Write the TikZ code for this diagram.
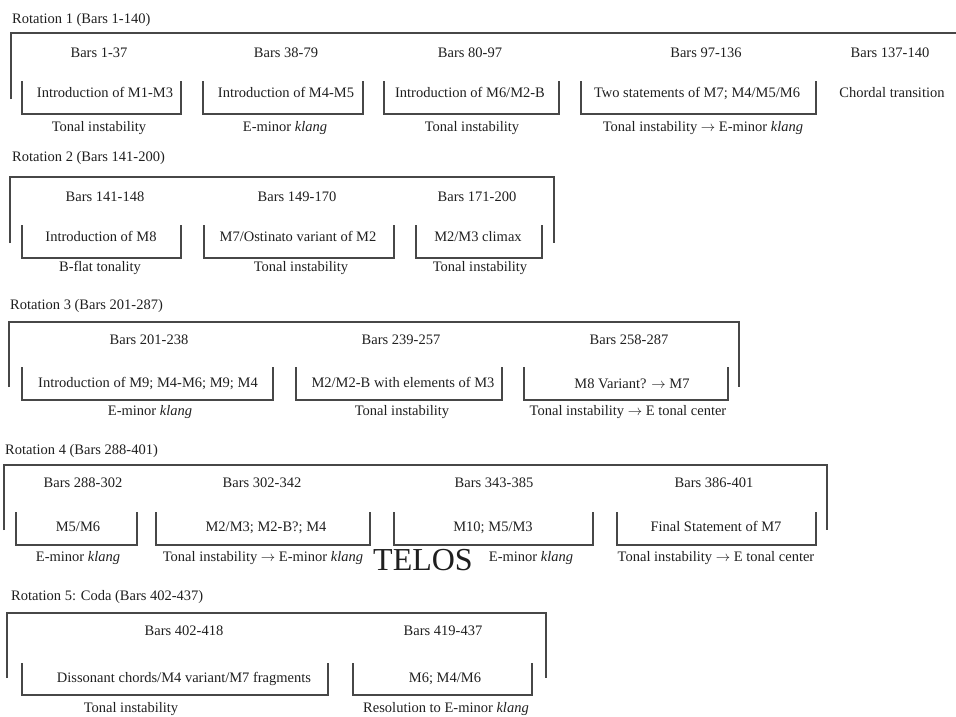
\documentclass[tikz,border=0pt]{standalone}
\usepackage{fontspec}
\setmainfont{Liberation Serif}

\tikzset{
  lbl/.style={inner sep=0pt, text height=9.6pt, text depth=0pt, text=black!88,
              font=\fontsize{14.5}{17}\selectfont},
  ttl/.style={lbl, anchor=west},
  brk/.style={line width=1.3pt, draw=black!72},
  telos/.style={inner sep=0pt, text height=21pt, text depth=0pt, text=black!88,
                font=\fontsize{32}{36}\selectfont}
}
% open-top bracket: left x, top y, bottom y, right x
\newcommand{\barbox}[4]{\draw[brk] (#1,#2) -- (#1,#3) -- (#4,#3) -- (#4,#2);}
\newcommand{\toarr}{$\rightarrow$}

\begin{document}
\begin{tikzpicture}[x=1pt, y=-1pt]
    \useasboundingbox (0,0) rectangle (956,716);

    % Rotation 1
    \node[ttl] (r1) at (12,19) {Rotation 1 (Bars 1-140)};
    \draw[brk] (11,99) -- (11,33) -- (956,33);
    \node[lbl] (r1h1) at (99,53) {Bars 1-37};
    \node[lbl] (r1h2) at (286,53) {Bars 38-79};
    \node[lbl] (r1h3) at (470,53) {Bars 80-97};
    \node[lbl] (r1h4) at (706,53) {Bars 97-136};
    \node[lbl] (r1h5) at (890,53) {Bars 137-140};
    \barbox{22}{81}{114}{181}
    \barbox{203}{81}{114}{363}
    \barbox{384}{81}{114}{559}
    \barbox{581}{81}{114}{816}
    \node[lbl] (r1c1) at (105,93) {Introduction of M1-M3};
    \node[lbl] (r1c2) at (286,93) {Introduction of M4-M5};
    \node[lbl] (r1c3) at (470,93) {Introduction of M6/M2-B};
    \node[lbl] (r1c4) at (697,93) {Two statements of M7; M4/M5/M6};
    \node[lbl] (r1c5) at (892,93) {Chordal transition};
    \node[lbl] (r1k1) at (99,127) {Tonal instability};
    \node[lbl] (r1k2) at (285,127) {E-minor \textit{klang}};
    \node[lbl] (r1k3) at (472,127) {Tonal instability};
    \node[lbl] (r1k4) at (703,127) {Tonal instability \toarr{} E-minor \textit{klang}};

    % Rotation 2
    \node[ttl] (r2) at (12,157) {Rotation 2 (Bars 141-200)};
    \draw[brk] (10,243) -- (10,177) -- (554,177) -- (554,243);
    \node[lbl] (r2h1) at (105,197) {Bars 141-148};
    \node[lbl] (r2h2) at (297,197) {Bars 149-170};
    \node[lbl] (r2h3) at (477,197) {Bars 171-200};
    \barbox{22}{225}{258}{181}
    \barbox{204}{225}{258}{394}
    \barbox{416}{225}{258}{542}
    \node[lbl] (r2c1) at (101,237) {Introduction of M8};
    \node[lbl] (r2c2) at (298,237) {M7/Ostinato variant of M2};
    \node[lbl] (r2c3) at (478,237) {M2/M3 climax};
    \node[lbl] (r2k1) at (100,267) {B-flat tonality};
    \node[lbl] (r2k2) at (301,267) {Tonal instability};
    \node[lbl] (r2k3) at (480,267) {Tonal instability};

    % Rotation 3
    \node[ttl] (r3) at (10,305) {Rotation 3 (Bars 201-287)};
    \draw[brk] (9,387) -- (9,322) -- (739,322) -- (739,387);
    \node[lbl] (r3h1) at (149,340) {Bars 201-238};
    \node[lbl] (r3h2) at (401,340) {Bars 239-257};
    \node[lbl] (r3h3) at (629,340) {Bars 258-287};
    \barbox{22}{367}{400}{273}
    \barbox{296}{367}{400}{502}
    \barbox{524}{367}{400}{728}
    \node[lbl] (r3c1) at (148,383) {Introduction of M9; M4-M6; M9; M4};
    \node[lbl] (r3c2) at (403,383) {M2/M2-B with elements of M3};
    \node[lbl] (r3c3) at (632,384) {M8 Variant? \toarr{} M7};
    \node[lbl] (r3k1) at (150,411) {E-minor \textit{klang}};
    \node[lbl] (r3k2) at (402,411) {Tonal instability};
    \node[lbl] (r3k3) at (628,411) {Tonal instability \toarr{} E tonal center};

    % Rotation 4
    \node[ttl] (r4) at (5,450) {Rotation 4 (Bars 288-401)};
    \draw[brk] (4,530) -- (4,465) -- (827,465) -- (827,530);
    \node[lbl] (r4h1) at (83,483) {Bars 288-302};
    \node[lbl] (r4h2) at (262,483) {Bars 302-342};
    \node[lbl] (r4h3) at (494,483) {Bars 343-385};
    \node[lbl] (r4h4) at (714,483) {Bars 386-401};
    \barbox{16}{512}{545}{137}
    \barbox{156}{512}{545}{370}
    \barbox{394}{512}{545}{593}
    \barbox{617}{512}{545}{816}
    \node[lbl] (r4c1) at (78,527) {M5/M6};
    \node[lbl] (r4c2) at (266,527) {M2/M3; M2-B?; M4};
    \node[lbl] (r4c3) at (493,527) {M10; M5/M3};
    \node[lbl] (r4c4) at (716,527) {Final Statement of M7};
    \node[lbl] (r4k1) at (78,557) {E-minor \textit{klang}};
    \node[lbl] (r4k2) at (263,557) {Tonal instability \toarr{} E-minor \textit{klang}};
    \node[telos] (tel) at (423,560) {TELOS};
    \node[lbl] (r4k3) at (531,557) {E-minor \textit{klang}};
    \node[lbl] (r4k4) at (716,557) {Tonal instability \toarr{} E tonal center};

    % Rotation 5
    \node[ttl] (r5) at (11,596) {Rotation 5: Coda (Bars 402-437)};
    \draw[brk] (7,678) -- (7,613) -- (546,613) -- (546,678);
    \node[lbl] (r5h1) at (184,631) {Bars 402-418};
    \node[lbl] (r5h2) at (443,631) {Bars 419-437};
    \barbox{22}{663}{695}{328}
    \barbox{353}{663}{695}{532}
    \node[lbl] (r5c1) at (184,678) {Dissonant chords/M4 variant/M7 fragments};
    \node[lbl] (r5c2) at (445,678) {M6; M4/M6};
    \node[lbl] (r5k1) at (131,708) {Tonal instability};
    \node[lbl] (r5k2) at (446,708) {Resolution to E-minor \textit{klang}};
\end{tikzpicture}
\end{document}
